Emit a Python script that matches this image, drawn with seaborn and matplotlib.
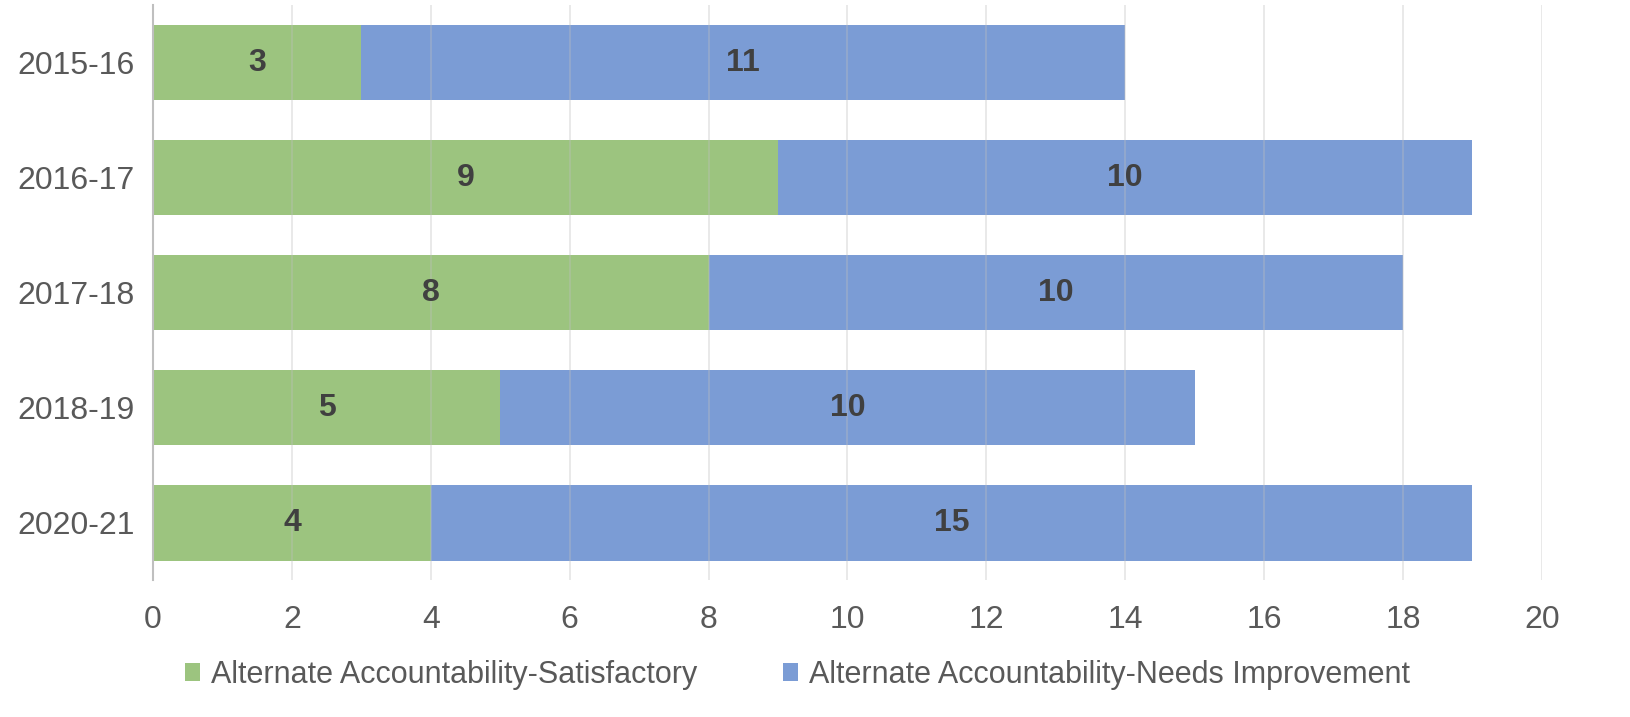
import matplotlib
matplotlib.use("Agg")
import matplotlib.pyplot as plt
import seaborn as sns
import pandas as pd

years = ["2015-16", "2016-17", "2017-18", "2018-19", "2020-21"]
satisfactory = [3, 9, 8, 5, 4]
needs_improvement = [11, 10, 10, 10, 15]
series_names = ["Alternate Accountability-Satisfactory",
                "Alternate Accountability-Needs Improvement"]
xticks = [0, 2, 4, 6, 8, 10, 12, 14, 16, 18, 20]

green = "#9CC47F"
blue = "#7B9CD5"

sns.set_style("white")
plt.rcParams['font.family'] = ['Liberation Sans', 'DejaVu Sans']

df = pd.DataFrame({
    "year": years,
    "sat": satisfactory,
    "ni": needs_improvement,
})
df["total"] = df["sat"] + df["ni"]

fig = plt.figure(figsize=(16.3, 7.17), dpi=100)
ax = fig.add_axes([0.0939, 0.191, 0.852, 0.802])

sns.barplot(data=df, y="year", x="total", color=blue, orient="h",
            width=0.66, ax=ax, saturation=1, label=series_names[1], linewidth=0)
sns.barplot(data=df, y="year", x="sat", color=green, orient="h",
            width=0.66, ax=ax, saturation=1, label=series_names[0], linewidth=0)

for i, (s, n) in enumerate(zip(satisfactory, needs_improvement)):
    ax.text(s / 2, i, str(s), ha="center", va="center", fontsize=23,
            fontweight="bold", color="#404040", zorder=5)
    ax.text(s + n / 2, i, str(n), ha="center", va="center", fontsize=23,
            fontweight="bold", color="#404040", zorder=5)

ax.set_xlim(0, 20)
ax.set_ylim(4.5, -0.5)
ax.set_xticks(xticks)
ax.set_xticklabels([str(t) for t in xticks])
ax.xaxis.grid(True, color="#bfbfbf", linewidth=1.2, alpha=0.4, zorder=3)
ax.set_axisbelow(False)
ax.set_xlabel("")
ax.set_ylabel("")
ax.tick_params(axis="both", length=0, labelsize=23, labelcolor="#595959")
ax.tick_params(axis="x", pad=18)
ax.tick_params(axis="y", pad=13)
for side in ["top", "right", "bottom"]:
    ax.spines[side].set_visible(False)
ax.spines["left"].set_color("#bfbfbf")
ax.spines["left"].set_linewidth(1.5)

handles, labels = ax.get_legend_handles_labels()
order = [labels.index(series_names[0]), labels.index(series_names[1])]
leg = ax.legend([handles[k] for k in order], [labels[k] for k in order],
                loc="center", bbox_to_anchor=(0.464, -0.165), ncol=2,
                frameon=False, fontsize=22, handlelength=0.5, handleheight=0.5,
                handletextpad=0.35, columnspacing=2.8, borderaxespad=0)
for t in leg.get_texts():
    t.set_color("#595959")

fig.savefig("out.png", dpi=100)
